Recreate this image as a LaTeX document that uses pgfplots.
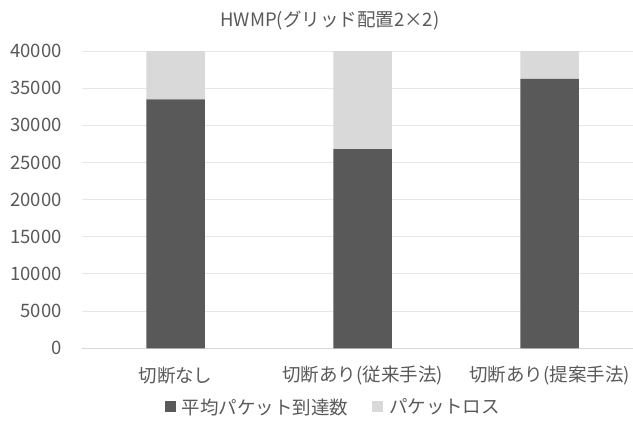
\documentclass[border=0pt]{standalone}
\usepackage{fontspec}
\setmainfont{Noto Sans CJK JP}
\usepackage{pgfplots}
\pgfplotsset{compat=1.18}
\definecolor{txt}{HTML}{595959}
\definecolor{dark}{HTML}{595959}
\definecolor{light}{HTML}{D9D9D9}
\definecolor{gridc}{HTML}{E6E6E6}
\newcommand{\lbl}{\fontsize{18.5pt}{22pt}\selectfont}

\begin{document}
\begin{tikzpicture}[x=1pt,y=1pt]
\useasboundingbox (0,0) rectangle (633,421);
\begin{axis}[
  at={(82pt,72.7pt)}, anchor=south west,
  scale only axis, width=551pt, height=297.3pt,
  ybar stacked, bar width=58.5pt,
  xmin=-0.5, xmax=2.4465, ymin=0, ymax=40000,
  xtick={0,1,2},
  xticklabels={切断なし,切断あり(従来手法),切断あり(提案手法)},
  ytick={0,5000,...,40000},
  scaled y ticks=false,
  /pgf/number format/assume math mode=true,
  yticklabel={\pgfmathprintnumber[fixed,1000 sep={}]{\tick}},
  ymajorgrids, grid style={draw=gridc, line width=1pt},
  axis line style={draw=none}, major tick length=0pt,
  tick label style={font=\lbl, text=txt},
  yticklabel style={anchor=east, inner sep=0pt, xshift=-20pt},
  xticklabel style={anchor=center, inner sep=0pt, yshift=-27.7pt},
  extra y ticks={0}, extra y tick labels={},
  extra y tick style={grid style={draw=light, line width=1pt}},
  legend columns=2,
  legend style={draw=none, fill=none, font=\lbl, text=txt,
    at={(0.456,-0.1974)}, anchor=center,
    /tikz/every even column/.append style={column sep=22pt}},
  clip=false,
]
\addplot[fill=dark, draw=none,
  legend image code/.code={\fill[dark] (0pt,-5.5pt) rectangle (11pt,5.5pt); \path (15pt,0pt);}]
  coordinates {(0,33500) (1,26800) (2,36250)};
\addplot[fill=light, draw=none,
  legend image code/.code={\fill[light] (0pt,-5.5pt) rectangle (11pt,5.5pt); \path (15pt,0pt);}]
  coordinates {(0,6500) (1,13200) (2,3750)};
\legend{平均パケット到達数, パケットロス}
\end{axis}
\node[text=txt, font=\lbl] at (330,400) {HWMP(グリッド配置2×2)};
\end{tikzpicture}
\end{document}
